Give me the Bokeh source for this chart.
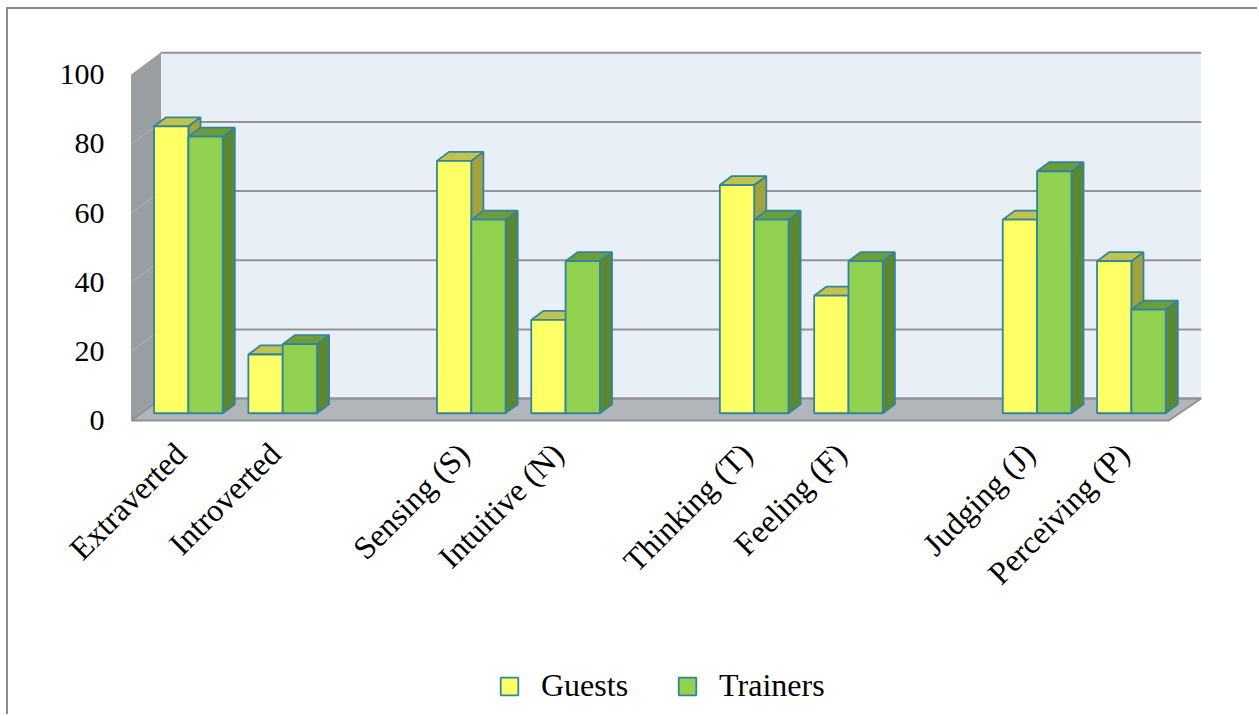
from math import pi

from bokeh.embed import file_html
from bokeh.models import FixedTicker, Legend, LegendItem, Range1d
from bokeh.plotting import figure
from bokeh.resources import INLINE

# --- data -------------------------------------------------------------
categories = ["Extraverted", "Introverted", "Sensing (S)", "Intuitive (N)",
              "Thinking (T)", "Feeling (F)", "Judging (J)", "Perceiving (P)"]
guests = [83, 17, 73, 27, 66, 34, 56, 44]
trainers = [80, 20, 56, 44, 56, 44, 70, 30]
y_ticks = [0, 20, 40, 60, 80, 100]
series_names = ["Guests", "Trainers"]

# --- pseudo-3D box geometry (x: one unit per category slot, y: percent) ---
FL = -0.521           # left edge of the front plane
N_SLOTS = 11          # 8 categories + an empty slot between each pair
BACK_W = 11.03        # width of the back wall
DX, DY = 0.313, 6.36  # offset from the front plane to the back wall
F_FRONT, F_BACK = 0.33, 0.74   # depth of the bars' front / back faces
BAR_W = 0.364
TOP = 100
AXIS_X = FL - 0.0636  # value axis, just left of the side wall
AXIS_Y = -1.157       # category axis, just under the floor

# pairs of categories separated by an empty slot
slots = [k + k // 2 for k in range(len(categories))]

# the plot area fills the whole canvas; both axes sit at fixed positions inside it
p = figure(width=1251, height=707, output_backend="svg", toolbar_location=None,
           x_range=Range1d(FL - 1.3043, FL + 11.962), y_range=Range1d(-85.62, 118.89),
           min_border=0)
p.styles = {"margin-left": "6px", "margin-top": "7px",
            "border-left": "2px solid #8c8c8c", "border-top": "2px solid #8c8c8c"}
p.outline_line_color = None
p.xgrid.visible = False
p.ygrid.visible = False

# walls and floor
bx0, by0 = FL + DX, DY
p.patch([FL, bx0, bx0, FL], [0, by0, TOP + by0, TOP],
        fill_color="#9a9da1", line_color="#9a9da1", line_width=1)
p.quad(left=bx0, right=bx0 + BACK_W, bottom=by0, top=TOP + by0,
       fill_color="#e8eff6", line_color=None)
p.patch([FL, FL + N_SLOTS, bx0 + BACK_W, bx0], [0, 0, by0, by0],
        fill_color="#b2b6ba", line_color="#8e9195", line_width=2)

# gridlines: back wall and left wall
p.segment(x0=[bx0] * len(y_ticks), y0=[t + by0 for t in y_ticks],
          x1=[bx0 + BACK_W] * len(y_ticks), y1=[t + by0 for t in y_ticks],
          line_color="#939393", line_width=2)
inner = y_ticks[1:-1]
p.segment(x0=[FL] * len(inner), y0=inner, x1=[bx0] * len(inner),
          y1=[t + by0 for t in inner], line_color="#b3b6b9", line_width=1)

# bars
ddx = (F_BACK - F_FRONT) * DX
ddy = (F_BACK - F_FRONT) * DY
base = F_FRONT * DY
styles = {
    "Guests": dict(front="#ffff66", top="#c2c24f", side="#a3a33e"),
    "Trainers": dict(front="#92d050", top="#6d9d39", side="#5b8831"),
}
OUTLINE = "#31859c"
OUTLINE_W = 1.8

fronts = {}
for name, values, shift in ((series_names[0], guests, -1), (series_names[1], trainers, 0)):
    st = styles[name]
    xl = [FL + s + 0.5 + F_FRONT * DX + shift * BAR_W for s in slots]
    xr = [x + BAR_W for x in xl]
    tops = [v + base for v in values]
    side_xs = [[r, r + ddx, r + ddx, r] for r in xr]
    side_ys = [[base, base + ddy, t + ddy, t] for t in tops]
    top_xs = [[l, r, r + ddx, l + ddx] for l, r in zip(xl, xr)]
    top_ys = [[t, t, t + ddy, t + ddy] for t in tops]
    p.patches(side_xs, side_ys, fill_color=st["side"], line_color=OUTLINE, line_width=OUTLINE_W)
    p.patches(top_xs, top_ys, fill_color=st["top"], line_color=OUTLINE, line_width=OUTLINE_W)
    fronts[name] = p.vbar(x=[l + BAR_W / 2 for l in xl], width=BAR_W, bottom=base, top=tops,
                          fill_color=st["front"], line_color=OUTLINE, line_width=OUTLINE_W)

# axes
for ax in (p.xaxis[0], p.yaxis[0]):
    ax.axis_line_color = None
    ax.major_tick_line_color = None
    ax.minor_tick_line_color = None
    ax.major_tick_out = 0
    ax.major_tick_in = 0
    ax.major_label_text_font = "Liberation Serif"
    ax.major_label_text_color = "black"

p.yaxis.fixed_location = AXIS_X
p.yaxis.ticker = FixedTicker(ticks=y_ticks)
p.yaxis.major_label_standoff = 21
p.yaxis.major_label_text_font_size = "30px"

p.xaxis.fixed_location = AXIS_Y
p.xaxis.ticker = FixedTicker(ticks=slots)
p.xaxis.major_label_overrides = {s: c for s, c in zip(slots, categories)}
p.xaxis.major_label_orientation = pi / 4
p.xaxis.major_label_standoff = 24
p.xaxis.major_label_text_font_size = "32px"

legend = Legend(items=[LegendItem(label=n, renderers=[fronts[n]]) for n in series_names],
                orientation="horizontal", location=(490, 12),
                glyph_width=22, glyph_height=22, label_standoff=21, spacing=48,
                padding=0, margin=0, border_line_alpha=0, background_fill_alpha=0,
                label_text_font="Liberation Serif", label_text_font_size="32px",
                label_text_color="black")
p.add_layout(legend)

open("out.html", "w").write(file_html(p, INLINE))
